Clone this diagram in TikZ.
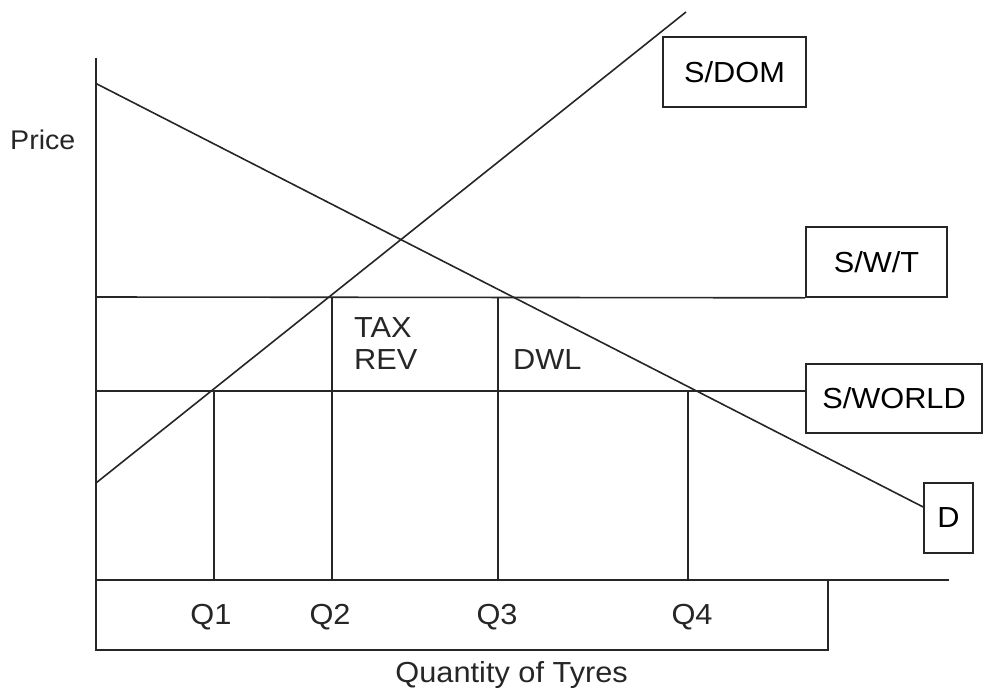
\documentclass[tikz,border=0pt]{standalone}
\usepackage{fontspec}
\setmainfont{Liberation Sans}[FakeStretch=1.06]
\begin{document}
\begin{tikzpicture}[x=1pt,y=-1pt,
  ln/.style={line width=1.6pt, draw=black!85},
  lbox/.style={draw=black!85, line width=1.6pt, inner sep=0pt, font=\fontsize{29}{34}\selectfont},
  lbl/.style={inner sep=0pt, font=\fontsize{29}{34}\selectfont, text=black!85}]
\useasboundingbox (0,0) rectangle (984,693);
% axes and bottom box
\coordinate (ytop) at (96,58);
\coordinate (o) at (96,580);
\coordinate (xend) at (949,580);
\coordinate (bl) at (96,650);
\coordinate (br) at (828,650);
\coordinate (bt) at (828,580);
\draw[ln] (ytop) -- (bl) -- (br) -- (bt);
\draw[ln] (o) -- (xend);
% boxes
\node[lbox, minimum width=143pt, minimum height=70pt] (sdom) at (734.5,72) {S/DOM};
\node[lbox, minimum width=141pt, minimum height=70pt] (swt) at (876.5,262) {S/W/T};
\node[lbox, minimum width=176pt, minimum height=69pt] (sworld) at (894,398.5) {S/WORLD};
\node[lbox, minimum width=49pt, minimum height=70pt] (dbox) at (948.5,518) {D};
% price levels
\coordinate (pt) at (96,297);
\coordinate (pw) at (96,391);
\draw[ln] (pt) -- (swt.south west);
\draw[ln] (pw) -- (sworld.west |- pw);
% demand and supply
\coordinate (d0) at (96,83.5);
\coordinate (s0) at (96,483);
\coordinate (s1) at (686,12);
\draw[ln] (d0) -- (dbox.west |- 0,507);
\draw[ln] (s0) -- (s1);
% quantity verticals
\coordinate (q1t) at (214,391); \coordinate (q1b) at (214,580);
\coordinate (q2t) at (332,297); \coordinate (q2b) at (332,580);
\coordinate (q3t) at (498,297); \coordinate (q3b) at (498,580);
\coordinate (q4t) at (688,391); \coordinate (q4b) at (688,580);
\draw[ln] (q1t) -- (q1b);
\draw[ln] (q2t) -- (q2b);
\draw[ln] (q3t) -- (q3b);
\draw[ln] (q4t) -- (q4b);
% labels
\node[lbl] (lq1) at (211,617) {Q1};
\node[lbl] (lq2) at (330,617) {Q2};
\node[lbl] (lq3) at (497,617) {Q3};
\node[lbl] (lq4) at (692,617) {Q4};
\node[lbl, anchor=west] (tax) at (354,328) {TAX};
\node[lbl, anchor=west] (rev) at (354,360) {REV};
\node[lbl, anchor=west] (dwl) at (513,360) {DWL};
\node[lbl, anchor=west, font=\fontsize{27}{32}\selectfont] (price) at (10,140) {Price};
\node[lbl, anchor=east] (qty) at (628,675) {Quantity of Tyres};
\end{tikzpicture}
\end{document}
